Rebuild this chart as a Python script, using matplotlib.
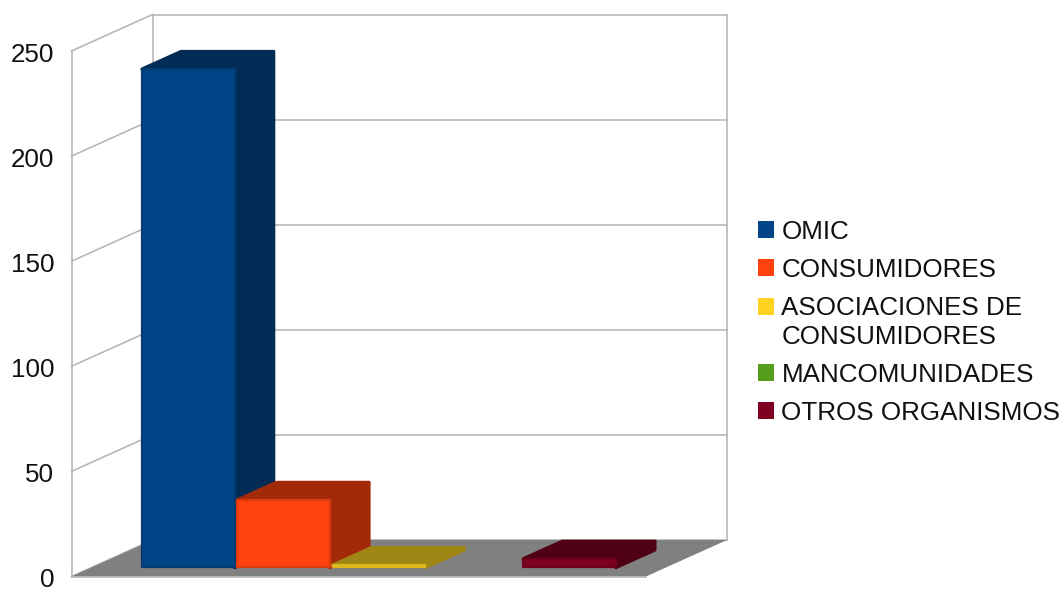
import matplotlib
matplotlib.use("Agg")
import matplotlib.pyplot as plt
from matplotlib.patches import Polygon, Patch
from matplotlib.colors import to_rgb
from matplotlib.transforms import ScaledTranslation

series = ["OMIC", "CONSUMIDORES", "ASOCIACIONES DE\nCONSUMIDORES", "MANCOMUNIDADES", "OTROS ORGANISMOS"]
values = [237, 32, 1, 0, 4]
front_colors = ["#004586", "#ff420e", "#ffd320", "#579d1c", "#7e0021"]
side_colors = ["#022c56", "#a32a09", "#a08614", "#38660f", "#4f0014"]
top_colors = ["#022c56", "#a32a09", "#a08614", "#38660f", "#4f0014"]
y_ticks = [0, 50, 100, 150, 200, 250]

W, H = 1064, 590
plt.rcParams["font.family"] = ["Liberation Sans", "DejaVu Sans"]
fig = plt.figure(figsize=(W / 100, H / 100), dpi=100)
L, R, T, B = 71.5, 646.0, 51.0, 576.5
ax = fig.add_axes([L / W, 1 - B / H, (R - L) / W, (B - T) / H])
XMIN, XMAX = -0.514, 5.514
ax.set_xlim(XMIN, XMAX)
ax.set_ylim(0, 250)
for s in ax.spines.values():
    s.set_visible(False)
ax.patch.set_alpha(0)
ax.set_xticks([])
ax.set_yticks(y_ticks)
ax.tick_params(axis="y", length=0, pad=12.5, labelsize=18.7, labelcolor="#111111")
for lab in ax.get_yticklabels():
    lab.set_transform(lab.get_transform() + ScaledTranslation(0, -1.0 / 100, fig.dpi_scale_trans))

# oblique projection: depth 0 = front plane, depth 1 = back wall
DX = 81.0 / ((R - L) / (XMAX - XMIN))
DY = 36.5 / ((B - T) / 250)


def P(x, y, d):
    return (x + DX * d, y + DY * d)


def mix(a, b, t):
    ra, rb = to_rgb(a), to_rgb(b)
    return tuple(p * (1 - t) + q * t for p, q in zip(ra, rb))


GRID = "#b3b3b3"


def line(a, b, z=1):
    ax.plot([a[0], b[0]], [a[1], b[1]], color=GRID, lw=1.1, clip_on=False, zorder=z,
            solid_capstyle="projecting")


for t in y_ticks:
    line(P(XMIN, t, 0), P(XMIN, t, 1))
    line(P(XMIN, t, 1), P(XMAX, t, 1))
line(P(XMIN, 0, 0), P(XMIN, 250, 0))
line(P(XMIN, 0, 1), P(XMIN, 250, 1))
line(P(XMAX, 0, 1), P(XMAX, 250, 1))
line(P(XMIN, 0, 0), P(XMAX, 0, 0), 2.5)

ax.add_patch(Polygon([P(XMIN, 0, 0), P(XMAX, 0, 0), P(XMAX, 0, 1), P(XMIN, 0, 1)],
                     closed=True, fc="#808080", ec="none", clip_on=False, zorder=2))

D0, D1 = 0.25, 0.73
z = 3
for i, v in enumerate(values):
    if v <= 0:
        continue
    x0, x1 = i + 0.015, i + 0.985
    faces = [
        ([P(x1, 0, D0), P(x1, 0, D1), P(x1, v, D1), P(x1, v, D0)], side_colors[i], side_colors[i], 2.6),
        ([P(x0, v, D0), P(x1, v, D0), P(x1, v, D1), P(x0, v, D1)], top_colors[i], top_colors[i], 2.6),
        ([P(x0, 0, D0), P(x1, 0, D0), P(x1, v, D0), P(x0, v, D0)], front_colors[i],
         mix(front_colors[i], side_colors[i], 0.35), 1.6),
    ]
    for pts, fc, ec, lw in faces:
        ax.add_patch(Polygon(pts, closed=True, fc=fc, ec=ec, lw=lw, joinstyle="round",
                             clip_on=False, zorder=z))
        z += 0.01

handles = [Patch(fc=c, ec="none") for c in front_colors]
leg = fig.legend(handles, series, loc="center left", bbox_to_anchor=(757.5 / W, 1 - 322.5 / H),
                 frameon=False, fontsize=18.7, borderpad=0, borderaxespad=0,
                 handlelength=0.63, handleheight=0.63, handletextpad=0.29,
                 labelspacing=0.54, labelcolor="#111111")
for t in leg.get_texts():
    t.set_linespacing(1.25)
# swatch of the two-line entry sits beside its first line
swatch = leg.legend_handles[2]
swatch.set_y(swatch.get_y() + 16 * 0.72)

fig.savefig("out.png", dpi=100, facecolor="white")
